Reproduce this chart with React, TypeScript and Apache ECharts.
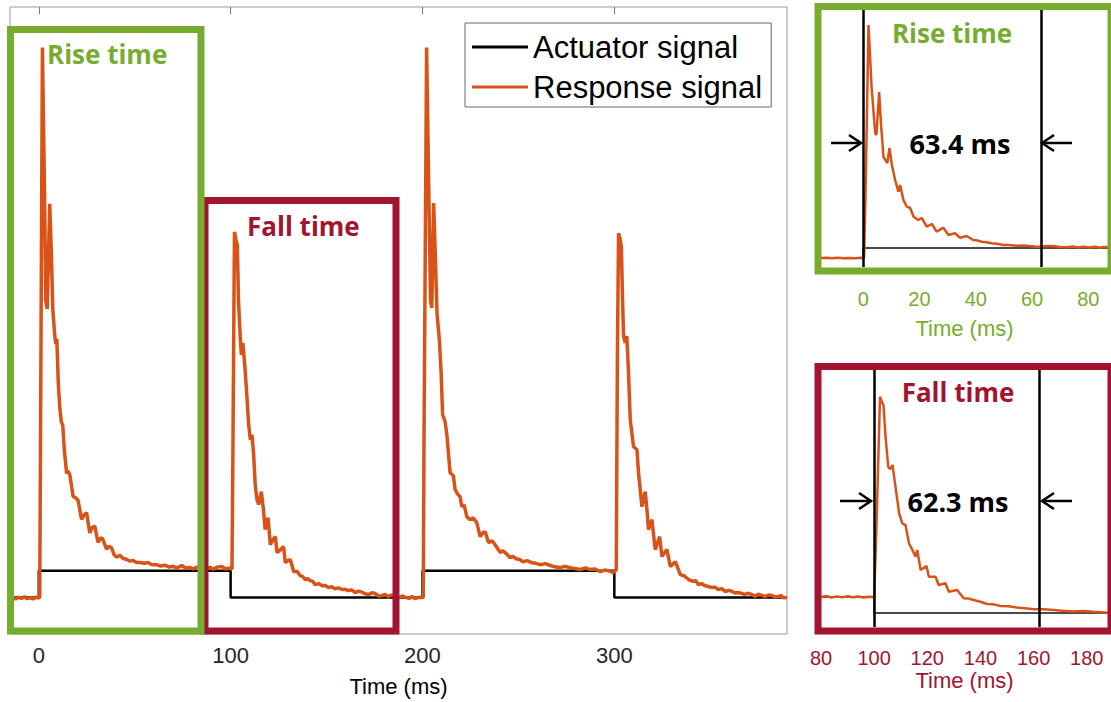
import React, { useEffect, useRef } from "react";
import * as echarts from "echarts";

const GREEN = "#77AC30";
const RED = "#A2142F";
const ORANGE = "#D95319";
const AXIS_TEXT = "#262626";

// ---- tick labels ----
const mainTicks = [0, 100, 200, 300];
const riseTicks = [0, 20, 40, 60, 80];
const fallTicks = [80, 100, 120, 140, 160, 180];

// ---- main chart: actuator (0 = low, 1 = high) ----
const actuatorMain: [number, number][] = [
  [-15, 0], [0, 0], [0, 1], [100, 1], [100, 0], [200, 0], [200, 1], [300, 1], [300, 0], [390, 0],
];

// ---- main chart: response signal, four pulses (time ms, a.u.) ----
const responsePre: [number, number][] = [
  [-15, -0.04], [-13.5, 0.02], [-12, -0.05], [-10.5, 0.01], [-9, -0.03], [-7.5, 0.03], [-6, -0.04],
  [-4.5, 0.0], [-3, -0.05], [-1.5, 0.02], [0, -0.02], [0.5, 0.02],
];
const responsePulse1: [number, number][] = [
  [1.0, 7.3], [1.9, 20.4], [2.9, 15.5], [3.65, 11.0], [4.4, 10.7], [5.7, 14.6], [6.5, 12.9], [7.3, 10.7],
  [8.35, 9.7], [8.9, 9.4], [9.4, 9.6], [10.2, 7.9], [11.0, 7.0], [11.8, 6.5], [12.5, 6.4], [13.3, 5.5],
  [14.5, 4.6], [15.1, 4.7], [16.2, 4.55], [17.9, 3.75], [19.3, 3.7], [20.5, 3.6], [22.3, 2.9], [23.5, 3.05],
  [24.9, 3.15], [26.6, 2.4], [27.9, 2.6], [29.2, 2.65], [30.9, 2.05], [32.1, 2.2], [33.2, 2.2], [35.3, 1.8],
  [36.5, 1.9], [37.9, 1.85], [39.2, 1.6], [40.5, 1.5], [42.2, 1.57], [44, 1.45], [45.7, 1.42], [47.5, 1.35],
  [49.0, 1.38], [51, 1.3], [52.7, 1.3], [55, 1.27], [56.9, 1.3], [59, 1.22], [61.4, 1.22], [63.5, 1.17],
  [65.7, 1.2], [68, 1.13], [69.9, 1.16], [72, 1.1], [74.6, 1.19], [76.5, 1.09], [78.8, 1.12], [80.5, 1.06],
  [82.3, 1.13], [85, 1.15], [87, 1.07], [89.2, 1.12], [91, 1.05], [93, 1.13], [95.5, 1.15], [97.5, 1.06],
  [99.6, 1.1],
];
const responsePulse2: [number, number][] = [
  [100.7, 1.05], [101.2, 5.5], [102.0, 13.56], [102.8, 13.25], [103.5, 13.07], [104.1, 11.0], [105.0, 9.67],
  [105.6, 9.0], [106.4, 9.44], [107.5, 8.5], [108.35, 7.6], [109.4, 6.4], [110.3, 5.85], [111.1, 6.04],
  [112.0, 5.3], [112.8, 4.2], [113.7, 3.65], [114.6, 3.45], [116.0, 3.93], [117.2, 3.2], [118.0, 2.52],
  [119.5, 2.96], [120.7, 1.96], [122.1, 2.15], [123.3, 2.26], [124.2, 1.67], [126.0, 1.78], [127.6, 1.89],
  [128.5, 1.3], [129.9, 1.37], [131.1, 1.41], [132.9, 0.96], [134.6, 0.98], [136.3, 0.81], [137.6, 0.78],
  [138.9, 0.67], [140.2, 0.7], [141.4, 0.63], [142.8, 0.6], [144.1, 0.48], [145.9, 0.52], [147.6, 0.44],
  [149.3, 0.45], [151.1, 0.37], [152.8, 0.4], [154.4, 0.33], [156.2, 0.36], [158.1, 0.3], [159.7, 0.31],
  [161.2, 0.26], [163.1, 0.28], [165.0, 0.19], [166.8, 0.24], [168.5, 0.2], [170.2, 0.14], [172.0, 0.11],
  [173.7, 0.18], [175.3, 0.15], [177.1, 0.06], [178.9, 0.07], [180.5, 0.12], [182.0, 0.04], [183.9, 0.09],
  [185.7, 0.05], [188, 0.0], [189.5, 0.06], [190.9, 0.02], [193, -0.03], [194.6, 0.04], [196.1, -0.04],
  [198, 0.01], [199.8, 0.0],
];
const responsePulse3: [number, number][] = [
  [200.4, 0.02], [200.8, 6.0], [202.15, 20.4], [203.2, 15.5], [204.2, 11.0], [204.85, 10.74], [205.8, 14.63],
  [206.6, 12.9], [207.6, 10.5], [208.8, 9.56], [209.7, 8.37], [210.5, 6.78], [211.8, 6.52], [212.7, 6.04],
  [214.4, 4.63], [216.1, 4.52], [217.0, 4.0], [218.6, 3.81], [219.6, 3.74], [220.5, 3.37], [221.7, 3.44],
  [223.1, 3.0], [224.8, 2.89], [226.4, 2.96], [228.3, 2.78], [230.05, 2.26], [231.6, 2.41], [232.7, 2.44],
  [234.4, 2.04], [236.3, 2.11], [237.9, 1.96], [240.5, 1.67], [241.8, 1.74], [243.1, 1.67], [245.7, 1.48],
  [247.2, 1.53], [248.8, 1.44], [250.6, 1.41], [252.5, 1.33], [254.6, 1.37], [256.7, 1.3], [259, 1.27],
  [261.4, 1.22], [264, 1.26], [266.6, 1.19], [269, 1.14], [271.8, 1.11], [274, 1.16], [277.0, 1.11],
  [280, 1.07], [282.2, 1.04], [285, 1.1], [287.4, 1.04], [290, 1.06], [292.7, 0.96], [295, 1.02],
  [296.8, 1.0], [299.4, 0.93],
];
const responsePulse4: [number, number][] = [
  [300.4, 1.0], [301.0, 1.02], [301.6, 9.0], [302.2, 13.51], [303.0, 13.3], [303.65, 13.01], [304.2, 11.3],
  [304.8, 9.68], [305.7, 9.45], [306.5, 9.7], [307.3, 8.5], [308.3, 6.59], [310.0, 5.6], [311.8, 5.48],
  [312.6, 4.63], [314.4, 3.37], [316.1, 3.93], [317.0, 3.26], [317.8, 2.52], [319.6, 2.89], [321.3, 1.78],
  [323.6, 2.26], [324.8, 1.52], [327.4, 1.78], [329.2, 1.15], [331.8, 1.33], [334.4, 0.85], [336.5, 0.8],
  [338.7, 0.67], [341, 0.6], [342.4, 0.63], [343.9, 0.48], [345.5, 0.52], [347, 0.45], [349, 0.41],
  [350.9, 0.37], [352.5, 0.39], [354, 0.3], [356, 0.33], [357.9, 0.22], [359.5, 0.27], [361, 0.24],
  [363, 0.17], [364.8, 0.19], [366.5, 0.15], [368, 0.12], [370, 0.16], [371.8, 0.11], [373.4, 0.05],
  [375, 0.13], [377, 0.08], [378.7, 0.04], [380.5, 0.1], [382, 0.08], [384, 0.02], [385.7, 0.04],
  [387, 0.08], [388, -0.01], [390, 0.0],
];
const responseMain: [number, number][] = [
  ...responsePre, ...responsePulse1, ...responsePulse2, ...responsePulse3, ...responsePulse4,
];

// ---- rise-time inset ----
const riseActuator: [number, number][] = [[-15, 0], [0, 0], [0, 1], [87, 1]];
const riseResponse: [number, number][] = [
  [-15, 0.0], [-13, 0.03], [-11, -0.02], [-9, 0.02], [-7, -0.03], [-5, 0.01], [-3, -0.02], [-1, 0.02],
  [0.3, 0.0], [0.8, 6.0], [1.88, 23.3], [3.0, 17.0], [4.26, 12.5], [4.7, 12.3], [5.67, 16.6], [6.3, 13.5],
  [7.2, 10.1], [8.6, 9.5], [9.33, 11.0], [10.2, 9.3], [11.35, 7.8], [12.52, 6.63], [13.1, 7.3], [14.3, 5.8],
  [15.5, 5.13], [16.7, 5.0], [17.9, 4.13], [19.6, 3.8], [20.8, 4.0], [22.6, 3.13], [24.4, 3.4], [26.1, 2.63],
  [28.5, 3.03], [30.3, 2.3], [32.6, 2.47], [34.4, 2.03], [36.8, 2.2], [39.1, 1.8], [40.6, 1.76], [42.1, 1.63],
  [43.8, 1.58], [45.6, 1.47], [47.6, 1.42], [49.8, 1.3], [52.0, 1.3], [54.5, 1.23], [57, 1.25], [59.2, 1.2],
  [61, 1.16], [62.8, 1.13], [65, 1.19], [67.5, 1.2], [70, 1.1], [72.2, 1.07], [74.5, 1.15], [76.3, 1.06],
  [78.1, 1.13], [80.5, 1.04], [82.3, 1.12], [84.0, 1.03], [85.6, 1.1], [87, 1.07],
];
const riseMarkers = [0, 63.4];
const riseLabel = "63.4 ms";

// ---- fall-time inset ----
const fallActuator: [number, number][] = [[80, 1], [100, 1], [100, 0], [188, 0]];
const fallResponse: [number, number][] = [
  [80, 1.0], [82, 1.06], [84, 0.97], [86, 1.04], [88, 0.99], [90, 1.05], [92, 0.98], [94, 1.03], [96, 0.97],
  [98, 1.02], [100.0, 1.0], [100.8, 5.0], [102.2, 13.52], [102.9, 13.2], [103.5, 13.0], [104.3, 11.0],
  [105.3, 9.14], [106.0, 9.0], [106.9, 9.25], [107.5, 8.52], [109.4, 6.23], [110.6, 5.6], [111.8, 5.5],
  [113.1, 4.36], [114.5, 3.9], [115.6, 3.52], [116.2, 3.94], [117.5, 2.69], [119.7, 2.94], [120.6, 2.27],
  [123.1, 2.27], [124.3, 1.75], [126.8, 1.86], [128.1, 1.33], [131.2, 1.44], [133.7, 0.92], [135.6, 0.9],
  [137.5, 0.81], [140, 0.7], [142.5, 0.56], [145, 0.54], [147.5, 0.44], [150.6, 0.42], [153.7, 0.35],
  [156.8, 0.3], [160.0, 0.23], [163.7, 0.24], [167.5, 0.19], [171, 0.14], [175.0, 0.1], [178.8, 0.12],
  [182.5, 0.08], [185.3, 0.05], [188, 0.02],
];
const fallMarkers = [100, 162.3];
const fallLabel = "62.3 ms";

const FONT = "Liberation Sans";
const BOLD = "Open Sans";

function frame(x: number, y: number, w: number, h: number, color: string) {
  return {
    type: "rect",
    z: 100,
    silent: true,
    shape: { x, y, width: w, height: h },
    style: { fill: "none", stroke: color, lineWidth: 7 },
  };
}

function label(text: string, x: number, y: number, color: string, size: number, align: string) {
  return {
    type: "text",
    z: 101,
    silent: true,
    x,
    y,
    style: {
      text,
      fill: color,
      fontSize: size,
      fontWeight: "bold",
      fontFamily: BOLD,
      align,
      verticalAlign: "middle",
    },
  };
}

function arrow(xFrom: number, xTo: number, y: number) {
  const dir = xTo > xFrom ? 1 : -1;
  return [
    {
      type: "line",
      z: 101,
      silent: true,
      shape: { x1: xFrom, y1: y, x2: xTo, y2: y },
      style: { stroke: "#000", lineWidth: 2.5 },
    },
    {
      type: "polyline",
      z: 101,
      silent: true,
      shape: { points: [[xTo - dir * 12, y - 8], [xTo, y], [xTo - dir * 12, y + 8]] },
      style: { stroke: "#000", lineWidth: 2.5, fill: "none" },
    },
  ];
}

function markerLines(values: number[]) {
  return {
    silent: true,
    symbol: "none",
    label: { show: false },
    lineStyle: { color: "#000", width: 2.5, type: "solid" },
    data: values.map((v) => ({ xAxis: v })),
  };
}

function buildOption() {
  return {
    animation: false,
    backgroundColor: "#fff",
    grid: [
      { left: 10, top: 7, width: 777, height: 627, show: true, borderColor: "#9a9a9a", borderWidth: 1 },
      { left: 821, top: 10, width: 287, height: 257 },
      { left: 821, top: 370, width: 287, height: 257 },
    ],
    legend: {
      data: [
        { name: "Actuator signal", icon: "rect" },
        { name: "Response signal", icon: "rect" },
      ],
      orient: "vertical",
      left: 465,
      top: 23,
      itemWidth: 56,
      itemHeight: 3,
      itemGap: 4,
      padding: [6, 9, 2, 7],
      borderColor: "#666",
      borderWidth: 1,
      backgroundColor: "#fff",
      selectedMode: false,
      textStyle: { fontSize: 31, fontFamily: FONT, color: "#000", lineHeight: 36 },
    },
    xAxis: [
      {
        type: "value",
        gridIndex: 0,
        min: -15,
        max: 390,
        name: "Time (ms)",
        nameLocation: "middle",
        nameGap: 41,
        nameTextStyle: { fontSize: 22, fontFamily: FONT, color: "#000" },
        axisLine: { show: false },
        splitLine: { show: false },
        axisTick: { show: true, inside: true, length: 7, customValues: mainTicks, lineStyle: { color: "#777" } },
        axisLabel: { customValues: mainTicks, fontSize: 22, fontFamily: FONT, color: AXIS_TEXT, margin: 10 },
      },
      {
        type: "value",
        gridIndex: 0,
        position: "top",
        min: -15,
        max: 390,
        axisLine: { show: false },
        splitLine: { show: false },
        axisTick: { show: true, inside: true, length: 7, customValues: mainTicks, lineStyle: { color: "#777" } },
        axisLabel: { show: false },
      },
      {
        type: "value",
        gridIndex: 1,
        min: -15,
        max: 87,
        name: "Time (ms)",
        nameLocation: "middle",
        nameGap: 50,
        nameTextStyle: { fontSize: 22, fontFamily: FONT, color: GREEN },
        axisLine: { show: false },
        splitLine: { show: false },
        axisTick: { show: false },
        axisLabel: { customValues: riseTicks, fontSize: 20, fontFamily: FONT, color: GREEN, margin: 22 },
      },
      {
        type: "value",
        gridIndex: 2,
        min: 80,
        max: 188,
        name: "Time (ms)",
        nameLocation: "middle",
        nameGap: 42,
        nameTextStyle: { fontSize: 22, fontFamily: FONT, color: RED },
        axisLine: { show: false },
        splitLine: { show: false },
        axisTick: { show: false },
        axisLabel: { customValues: fallTicks, fontSize: 20, fontFamily: FONT, color: RED, margin: 21 },
      },
    ],
    yAxis: [
      { type: "value", gridIndex: 0, min: -1.35, max: 21.9, show: false },
      { type: "value", gridIndex: 1, min: -0.9, max: 24.8, show: false },
      { type: "value", gridIndex: 2, min: -0.875, max: 15.19, show: false },
    ],
    series: [
      {
        name: "Actuator signal",
        type: "line",
        xAxisIndex: 0,
        yAxisIndex: 0,
        data: actuatorMain,
        showSymbol: false,
        color: "#000",
        lineStyle: { color: "#000", width: 2.5 },
        z: 2,
      },
      {
        name: "Response signal",
        type: "line",
        xAxisIndex: 0,
        yAxisIndex: 0,
        data: responseMain,
        showSymbol: false,
        color: ORANGE,
        lineStyle: { color: ORANGE, width: 3.5 },
        z: 3,
      },
      {
        name: "Rise actuator",
        type: "line",
        xAxisIndex: 2,
        yAxisIndex: 1,
        data: riseActuator,
        showSymbol: false,
        lineStyle: { color: "#111", width: 1.5 },
        z: 2,
      },
      {
        name: "Rise response",
        type: "line",
        xAxisIndex: 2,
        yAxisIndex: 1,
        data: riseResponse,
        showSymbol: false,
        lineStyle: { color: ORANGE, width: 2.5 },
        markLine: markerLines(riseMarkers),
        z: 3,
      },
      {
        name: "Fall actuator",
        type: "line",
        xAxisIndex: 3,
        yAxisIndex: 2,
        data: fallActuator,
        showSymbol: false,
        lineStyle: { color: "#111", width: 1.5 },
        z: 2,
      },
      {
        name: "Fall response",
        type: "line",
        xAxisIndex: 3,
        yAxisIndex: 2,
        data: fallResponse,
        showSymbol: false,
        lineStyle: { color: ORANGE, width: 2.5 },
        markLine: markerLines(fallMarkers),
        z: 3,
      },
    ],
    graphic: [
      frame(205, 200.5, 191, 430.5, RED),
      frame(10.5, 29.5, 190.5, 601.5, GREEN),
      frame(818, 6.5, 293, 264.5, GREEN),
      frame(818, 366.5, 293, 264.5, RED),
      label("Rise time", 47, 54, GREEN, 26, "left"),
      label("Fall time", 247, 226, RED, 26, "left"),
      label("Rise time", 952, 33, GREEN, 26, "center"),
      label("Fall time", 958, 392, RED, 26, "center"),
      label(riseLabel, 960, 143, "#000", 27, "center"),
      label(fallLabel, 958, 501, "#000", 27, "center"),
      ...arrow(831, 861, 143),
      ...arrow(1072, 1042, 143),
      ...arrow(840, 871, 501),
      ...arrow(1072, 1042, 501),
    ],
  };
}

export default function App() {
  const ref = useRef<HTMLDivElement>(null);
  useEffect(() => {
    if (!ref.current) return;
    const chart = echarts.init(ref.current, null, { renderer: "svg" });
    chart.setOption(buildOption() as any);
    return () => chart.dispose();
  }, []);
  return (
    <div
      ref={ref}
      style={{ position: "absolute", left: 0, top: 0, width: 1111, height: 702, background: "#fff" }}
    />
  );
}
